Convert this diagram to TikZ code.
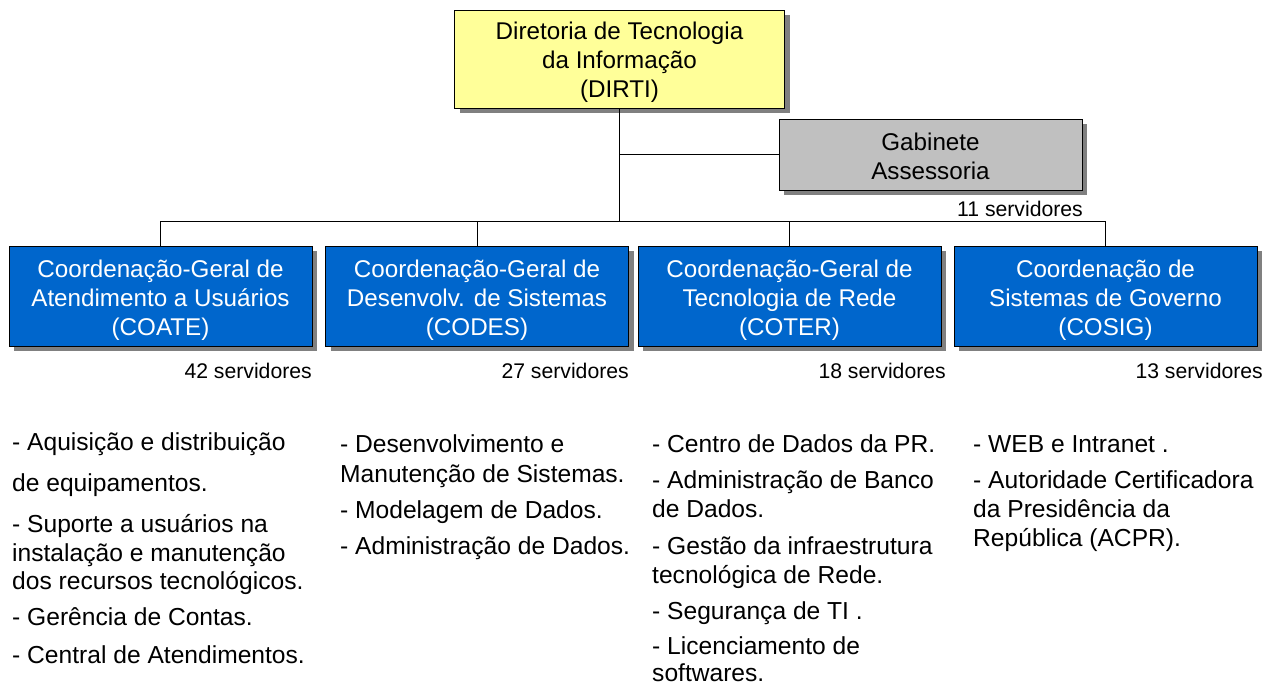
\documentclass[tikz,border=0pt]{standalone}
\usepackage{fontspec}
\setmainfont{Liberation Sans}
\usetikzlibrary{shadows}
\definecolor{dirtiyellow}{HTML}{FFFF99}
\definecolor{gabgray}{HTML}{C0C0C0}
\definecolor{coordblue}{HTML}{0066CC}
\definecolor{shadowgray}{HTML}{808080}
\newcommand{\mytopstrut}[1]{\rule{0pt}{#1}}
\begin{document}
\begin{tikzpicture}[x=1pt,y=-1pt,
  orgbox/.style={draw=black, line width=0.9pt, align=center, inner sep=0pt,
    minimum width=303pt, general shadow={fill=shadowgray, shadow xshift=5pt, shadow yshift=-5pt},
    font=\fontsize{24.2}{29}\selectfont},
  topbox/.style={orgbox, fill=dirtiyellow, minimum width=330pt, minimum height=98pt},
  gabbox/.style={orgbox, fill=gabgray, minimum height=71pt},
  coordbox/.style={orgbox, fill=coordblue, text=white, minimum height=100pt},
  conn/.style={draw=black, line width=0.7pt},
  count/.style={anchor=base east, inner sep=0pt, font=\fontsize{21.2}{24}\selectfont},
  item/.style={anchor=base west, inner sep=0pt, font=\fontsize{24.6}{28}\selectfont}]
\useasboundingbox (0,0) rectangle (1282,685);

\node[topbox] (dirti) at (619.5,59) {\mytopstrut{25pt}Diretoria de Tecnologia\\da Informação\\(DIRTI)};
\node[gabbox] (gab) at (930.5,154.5) {\mytopstrut{22pt}Gabinete\\Assessoria};
\node[coordbox] (coate) at (160.5,296) {\mytopstrut{27pt}Coordenação-Geral de\\Atendimento a Usuários\\(COATE)};
\node[coordbox] (codes) at (477,296) {\mytopstrut{27pt}Coordenação-Geral de\\Desenvolv. de Sistemas\\(CODES)};
\node[coordbox] (coter) at (789.5,296) {\mytopstrut{27pt}Coordenação-Geral de\\Tecnologia de Rede\\(COTER)};
\node[coordbox] (cosig) at (1105.5,296) {\mytopstrut{27pt}Coordenação de\\Sistemas de Governo\\(COSIG)};

\coordinate (busL) at (160.5,221);
\coordinate (busR) at (1105.5,221);
\coordinate (busM) at (619.5,221);
\draw[conn] (dirti.south) -- (busM);
\draw[conn] (dirti.south |- gab.west) -- (gab.west);
\draw[conn] (busL) -- (busR);
\draw[conn] (busL) -- (coate.north);
\draw[conn] (codes.north |- busL) -- (codes.north);
\draw[conn] (coter.north |- busL) -- (coter.north);
\draw[conn] (busR) -- (cosig.north);

\node[count] (ngab) at (1083,216) {11 servidores};
\node[count] (ncoate) at (312,378) {42 servidores};
\node[count] (ncodes) at (629,378) {27 servidores};
\node[count] (ncoter) at (946,378) {18 servidores};
\node[count] (ncosig) at (1263,378) {13 servidores};

% COATE list
\node[item] (a1) at (12,450) {- Aquisição e distribuição};
\node[item] (a2) at (12,491) {de equipamentos.};
\node[item] (a3) at (12,532) {- Suporte a usuários na};
\node[item] (a4) at (12,561) {instalação e manutenção};
\node[item] (a5) at (12,589) {dos recursos tecnológicos.};
\node[item] (a6) at (12,625) {- Gerência de Contas.};
\node[item] (a7) at (12,663) {- Central de Atendimentos.};
% CODES list
\node[item] (b1) at (340,452) {- Desenvolvimento e};
\node[item] (b2) at (340,482) {Manutenção de Sistemas.};
\node[item] (b3) at (340,518) {- Modelagem de Dados.};
\node[item] (b4) at (340,554) {- Administração de Dados.};
% COTER list
\node[item] (c1) at (652,452) {- Centro de Dados da PR.};
\node[item] (c2) at (652,488) {- Administração de Banco};
\node[item] (c3) at (652,517) {de Dados.};
\node[item] (c4) at (652,554) {- Gestão da infraestrutura};
\node[item] (c5) at (652,583) {tecnológica de Rede.};
\node[item] (c6) at (652,619) {- Segurança de TI .};
\node[item] (c7) at (652,654) {- Licenciamento de};
\node[item] (c8) at (652,681) {softwares.};
% COSIG list
\node[item] (d1) at (973,452) {- WEB e Intranet .};
\node[item] (d2) at (973,488) {- Autoridade Certificadora};
\node[item] (d3) at (973,517) {da Presidência da};
\node[item] (d4) at (973,546) {República (ACPR).};
\end{tikzpicture}
\end{document}
